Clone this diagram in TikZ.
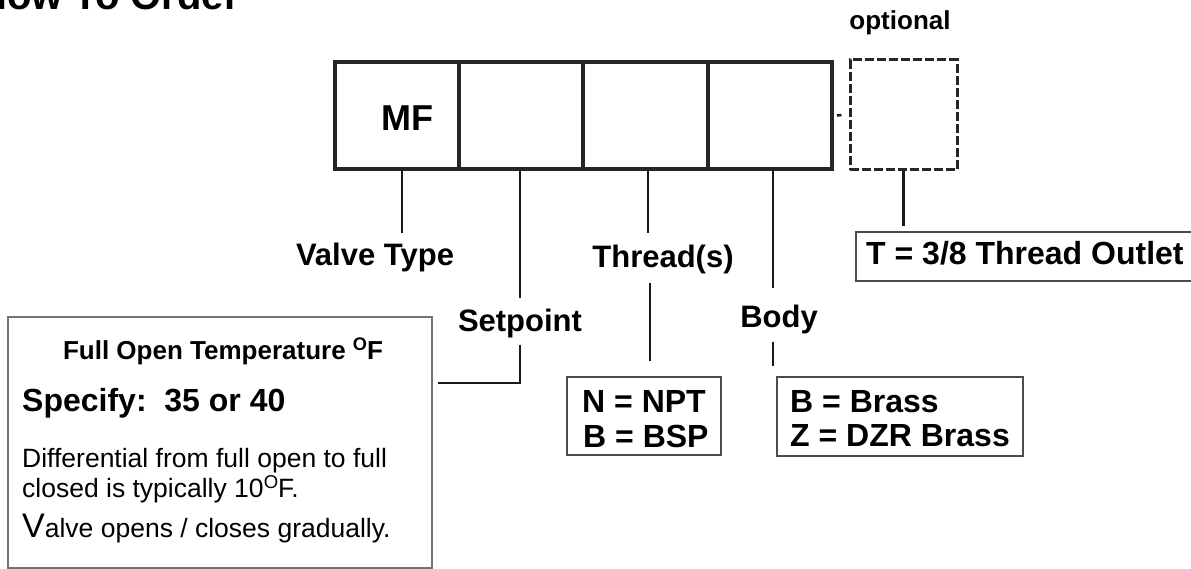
\documentclass[tikz,border=0pt]{standalone}
\usepackage{graphicx}
\usepackage{fontspec}
\setmainfont{Liberation Sans}
\usetikzlibrary{positioning}
\tikzset{
	cell/.style={draw=black!85, line width=4pt, minimum width=124.25pt,
		minimum height=107pt, inner sep=0pt, outer sep=0pt},
	optcell/.style={draw=black!85, line width=3pt, dash pattern=on 9pt off 3pt,
		minimum width=107pt, minimum height=110pt, inner sep=0pt},
	conn/.style={line width=2.5pt, draw=black!90},
	lbl/.style={font=\fontsize{31}{31}\selectfont\bfseries, inner sep=0pt, anchor=base},
	infobox/.style={draw=black!70, line width=1.5pt, inner sep=0pt},
	boxtxt/.style={font=\fontsize{32}{32}\selectfont\bfseries, inner sep=0pt, anchor=base west},
	note/.style={font=\fontsize{26.5}{26.5}\selectfont, inner sep=0pt, anchor=base west}
}
\newcommand{\supO}{\raisebox{0.32em}{\scalebox{0.7}{O}}}

\begin{document}
\begin{tikzpicture}[x=1pt,y=-1pt]
	\useasboundingbox (0,0) rectangle (1191,569);
	% heading, cut at the top
	\node[font=\fontsize{40}{40}\selectfont\bfseries, inner sep=0pt, anchor=base west] (title) at (-22,10) {How To Order};
	\node[font=\fontsize{26}{26}\selectfont\bfseries, inner sep=0pt, anchor=base] (tOpt) at (900,30) {optional};
	% code cells
	\node[cell] (cMF) at (397.1,115.5) {};
	\node[cell, right=0pt of cMF] (cSet) {};
	\node[cell, right=0pt of cSet] (cThr) {};
	\node[cell, right=0pt of cThr] (cBody) {};
	\node[optcell] (cOpt) at (903.5,115) {};
	\node[font=\fontsize{36}{36}\selectfont\bfseries, inner sep=0pt] (tMF) at (407,118) {MF};
	\draw[conn] ([xshift=5pt]cBody.east) -- ([xshift=-7pt]cOpt.west);
	% field names
	\node[lbl] (lblType) at (375,266) {Valve Type};
	\node[lbl] (lblSet) at (520,331) {Setpoint};
	\node[lbl] (lblThr) at (663,268) {Thread(s)};
	\node[lbl] (lblBody) at (779,327) {Body};
	% option boxes
	\node[infobox, draw=black!55, minimum width=424pt, minimum height=251pt] (boxTemp) at (220,442.5) {};
	\node[infobox, minimum width=154pt, minimum height=78pt] (boxThr) at (644,416) {};
	\node[infobox, minimum width=246pt, minimum height=79pt] (boxBody) at (900,416.5) {};
	\node[infobox, minimum width=346pt, minimum height=49pt] (boxOut) at (1029,256.5) {};
	\node[font=\fontsize{26}{26}\selectfont\bfseries, inner sep=0pt, anchor=base] (tFull) at (223,359) {Full Open Temperature \supO F};
	\node[boxtxt] (tSpec) at (22,411) {Specify:\ \ 35 or 40};
	\node[note] (tDiff) at (22,467) {Differential from full open to full};
	\node[note] (tClosed) at (22,497) {closed is typically 10\supO F.};
	\node[note] (tGrad) at (22,537) {{\fontsize{34}{34}\selectfont V}alve opens / closes gradually.};
	\node[boxtxt] (tNPT) at (582,412) {N = NPT};
	\node[boxtxt] (tBSP) at (583,447) {B = BSP};
	\node[boxtxt] (tBrass) at (790,412) {B = Brass};
	\node[boxtxt] (tDZR) at (790,446) {Z = DZR Brass};
	\node[boxtxt] (tOut) at (866,265) {T = 3/8 Thread Outlet};
	% leader lines
	\coordinate (eType) at (402,233);
	\coordinate (eSet) at (520,298);
	\coordinate (kSet) at (438,383);
	\coordinate (eThr) at (648,233);
	\coordinate (eBody) at (773,288);
	\draw[conn] (cMF.south -| eType) -- (eType);
	\draw[conn] (cSet.south -| eSet) -- (eSet);
	\draw[conn] ([yshift=-7pt]lblSet.south) -- (lblSet.south |- kSet) -- (kSet);
	\draw[conn] (cThr.south -| eThr) -- (eThr);
	\draw[conn] ([xshift=-13pt,yshift=-8pt]lblThr.south) -- ([xshift=-13pt,yshift=15pt]lblThr.south |- boxThr.north);
	\draw[conn] (cBody.south -| eBody) -- (eBody);
	\draw[conn] ([xshift=-6pt,yshift=-8pt]lblBody.south) -- ([xshift=-6pt,yshift=10pt]lblBody.south |- boxBody.north);
	\draw[conn, shorten >=5pt] (cOpt.south) -- (cOpt.south |- boxOut.north);
\end{tikzpicture}
\end{document}
